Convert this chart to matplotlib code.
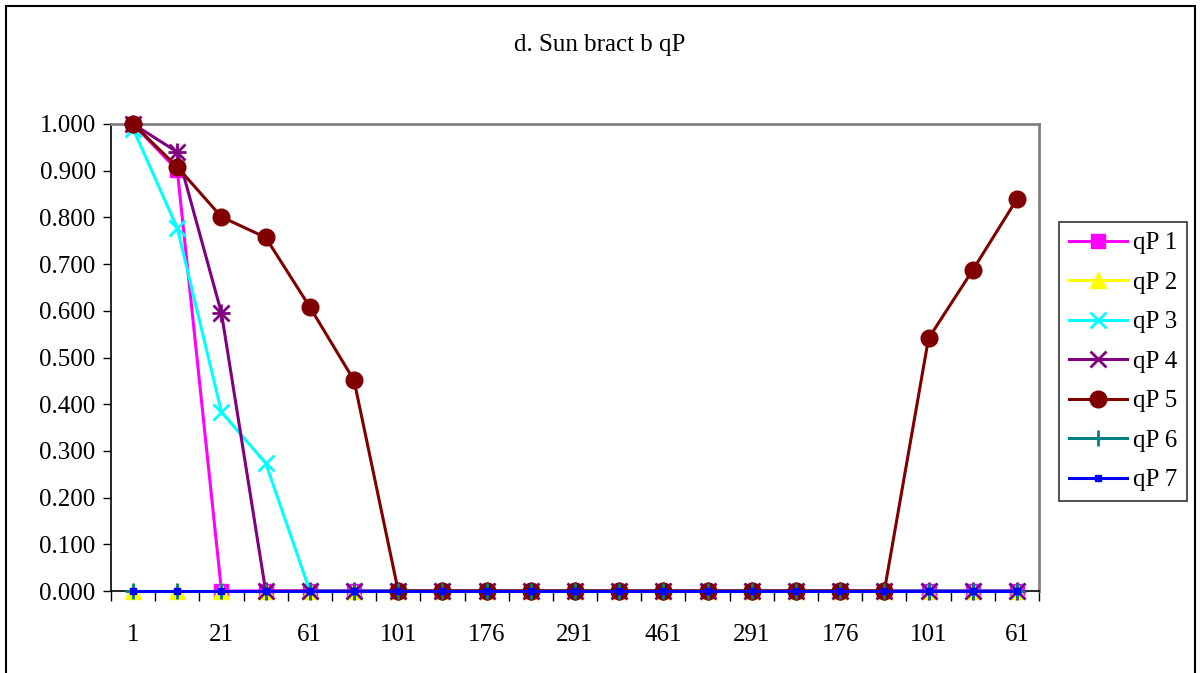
"""Recreation of the 'd. Sun bract b qP' line chart."""

import matplotlib

matplotlib.use("Agg")

import matplotlib.pyplot as plt  # noqa: E402
from matplotlib.patches import Rectangle  # noqa: E402

# Category labels along the x axis (only every other one is shown).
categories = [
    "1", "11", "21", "41", "61", "81", "101", "126", "176", "231", "291",
    "371", "461", "371", "291", "231", "176", "126", "101", "81", "61",
]

qp1 = [1.000, 0.901] + [0.0] * 19
qp2 = [0.0] * 21
qp3 = [0.990, 0.777, 0.383, 0.274] + [0.0] * 17
qp4 = [1.000, 0.940, 0.595] + [0.0] * 18
qp5 = [1.000, 0.908, 0.801, 0.757, 0.608, 0.451] + [0.0] * 12 + [0.541, 0.687, 0.839]
qp6 = [0.0] * 21
qp7 = [0.0] * 21

series_names = ["qP 1", "qP 2", "qP 3", "qP 4", "qP 5", "qP 6", "qP 7"]
series_values = [qp1, qp2, qp3, qp4, qp5, qp6, qp7]

styles = [
    dict(color="#FF00FF", marker="s", markersize=10),
    dict(color="#FFFF00", marker="^", markersize=11),
    dict(color="#00FFFF", marker="x", markersize=11, markeredgewidth=2),
    dict(color="#800080", marker="x", markersize=11, markeredgewidth=2),
    dict(color="#800000", marker="o", markersize=12),
    dict(color="#008080", marker="+", markersize=12, markeredgewidth=2),
    dict(color="#0000FF", marker="s", markersize=5),
]

plt.rcParams["font.family"] = ["Liberation Serif", "DejaVu Serif"]
FS = 18

fig = plt.figure(figsize=(12, 6.73), dpi=100)
fig.patch.set_facecolor("white")
fig.patches.append(
    Rectangle((6 / 1200, -0.01), 1189 / 1200, 1 - 6 / 673 + 0.01,
              transform=fig.transFigure, fill=False, edgecolor="black",
              linewidth=1.5)
)

ax = fig.add_axes([111 / 1200, 1 - 591 / 673, 928 / 1200, 467 / 673])
x = list(range(len(categories)))
handles = []
for i, (name, values, style) in enumerate(zip(series_names, series_values, styles)):
    line, = ax.plot(x, values, linewidth=2.2, label=name, clip_on=False,
                    zorder=3 + i, **style)
    handles.append(line)
    if name == "qP 4":
        # asterisk: overlay a plus on the x marker
        ax.plot(x, values, linestyle="none", marker="+", color=style["color"],
                markersize=13, markeredgewidth=2, clip_on=False, zorder=3 + i)

ax.set_xlim(-0.5, len(categories) - 0.5)
ax.set_ylim(0, 1)
ax.set_yticks([i / 10 for i in range(11)])
ax.set_yticklabels([f"{i / 10:.3f}" for i in range(11)])
ax.set_xticks([i + 0.5 for i in range(-1, len(categories))])
ax.set_xticklabels([])
ax.set_xticks(x[::2], minor=True)
ax.set_xticklabels(categories[::2], minor=True)
ax.tick_params(axis="x", which="minor", length=0, pad=24, labelsize=FS)
ax.tick_params(axis="x", which="major", length=7, width=1, color="black")
ax.tick_params(axis="y", length=6, width=1, labelsize=FS, pad=5)

for side in ("top", "right"):
    ax.spines[side].set_color("#808080")
    ax.spines[side].set_linewidth(2)
for side in ("left", "bottom"):
    ax.spines[side].set_color("black")
    ax.spines[side].set_linewidth(1.2)

fig.text(0.5, 1 - 45 / 673, "d. Sun bract b qP", fontsize=FS,
         ha="center", va="center")

leg = fig.legend(
    handles, series_names, loc="upper left",
    bbox_to_anchor=(1059 / 1200, 1 - 222 / 673),
    frameon=True, fancybox=False, edgecolor="black", fontsize=FS,
    handlelength=2.3, handletextpad=0.25, labelspacing=0.68, borderpad=0.4,
    borderaxespad=0,
)
leg.get_frame().set_linewidth(1.2)

fig.savefig("out.png", dpi=100)
